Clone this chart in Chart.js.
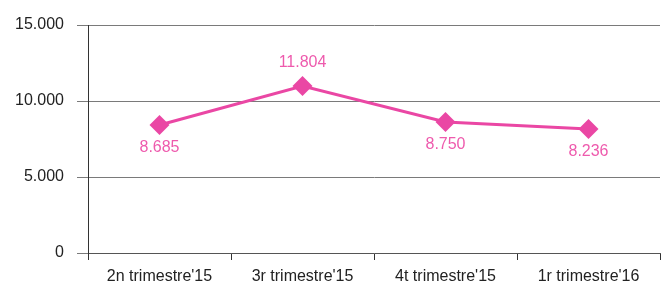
<!DOCTYPE html>
<html>
<head>
<meta charset="utf-8">
<script src="https://cdn.jsdelivr.net/npm/chart.js@4/dist/chart.umd.min.js"></script>
<style>
  html, body { margin: 0; padding: 0; background: #fff; }
  #wrap { width: 662px; height: 286px; }
</style>
</head>
<body>
<div id="wrap"><canvas id="grafica" width="662" height="286"></canvas></div>
<script>
// Dades del gràfic
const trimestres = ["2n trimestre'15", "3r trimestre'15", "4t trimestre'15", "1r trimestre'16"];
const valors = [8420, 10990, 8620, 8160];
const etiquetes = ['8.685', '11.804', '8.750', '8.236'];
const ticksY = [0, 5000, 10000, 15000];

const rosa = '#ea47a4';
const rosaText = '#ee5aad';
const familia = "'Liberation Sans Narrow', 'Arial Narrow', 'Liberation Sans', sans-serif";

function format(n) {
    return String(n).replace(/\B(?=(\d{3})+(?!\d))/g, '.');
}

// Plugin per escriure els valors al costat de cada punt
const valorsPlugin = {
    id: 'valors',
    afterDatasetsDraw(chart) {
        const ctx = chart.ctx;
        const punts = chart.getDatasetMeta(0).data;
        ctx.save();
        ctx.font = '16px ' + familia;
        ctx.fillStyle = rosaText;
        ctx.textAlign = 'center';
        ctx.textBaseline = 'middle';
        punts.forEach((p, i) => {
            const ant = i > 0 ? valors[i - 1] : -Infinity;
            const seg = i < valors.length - 1 ? valors[i + 1] : -Infinity;
            const amunt = valors[i] > ant && valors[i] > seg;
            ctx.fillText(etiquetes[i], p.x, amunt ? p.y - 23 : p.y + 23);
        });
        ctx.restore();
    }
};

new Chart(document.getElementById('grafica').getContext('2d'), {
    type: 'line',
    data: {
        labels: trimestres,
        datasets: [{
            data: valors,
            borderColor: rosa,
            backgroundColor: rosa,
            borderWidth: 3,
            pointStyle: 'rectRot',
            pointRadius: 10,
            pointBackgroundColor: rosa,
            pointBorderWidth: 0,
            tension: 0
        }]
    },
    options: {
        responsive: false,
        animation: false,
        layout: { autoPadding: false, padding: { top: 25, right: 2, left: 0, bottom: 0 } },
        plugins: {
            legend: { display: false },
            tooltip: { enabled: false }
        },
        scales: {
            x: {
                offset: true,
                grid: {
                    offset: true,
                    drawOnChartArea: false,
                    tickLength: 7,
                    color: '#333',
                    lineWidth: 1
                },
                border: { color: '#555', width: 1 },
                ticks: {
                    color: '#222',
                    font: { family: familia, size: 16 },
                    padding: 7,
                    maxRotation: 0
                },
                afterFit(s) {
                    s.height = 33;
                    s.paddingLeft = 0;
                    s.paddingRight = 0;
                }
            },
            y: {
                min: 0,
                max: 15000,
                afterBuildTicks(s) { s.ticks = ticksY.map(v => ({ value: v })); },
                grid: {
                    color: '#7a7a7a',
                    lineWidth: 1,
                    tickLength: 11
                },
                border: { color: '#333', width: 1 },
                ticks: {
                    color: '#222',
                    font: { family: familia, size: 16 },
                    padding: 13,
                    callback: v => format(v)
                },
                afterFit(s) {
                    s.width = 88;
                    s.paddingTop = 0;
                    s.paddingBottom = 0;
                }
            }
        }
    },
    plugins: [valorsPlugin]
});
</script>
</body>
</html>
